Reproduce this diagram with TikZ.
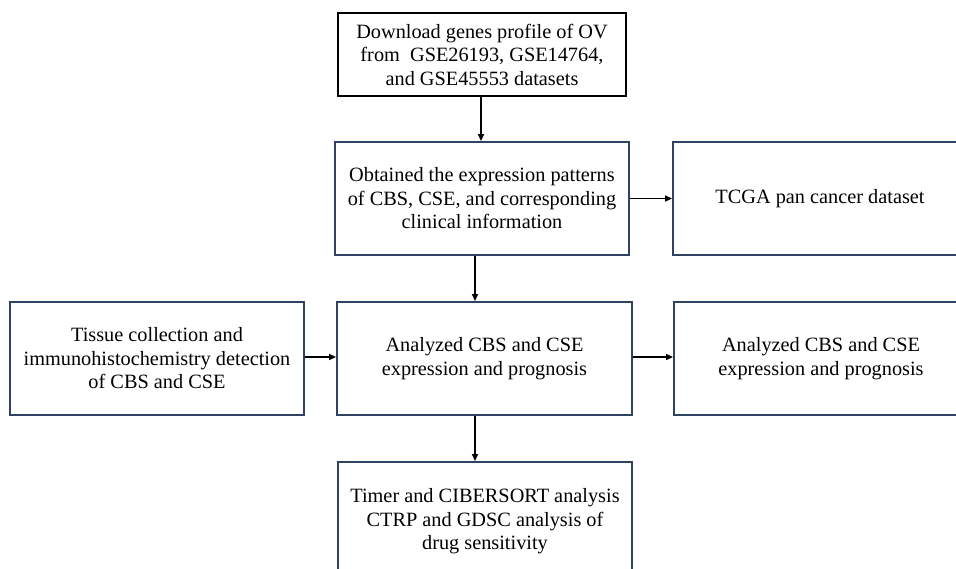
\documentclass[tikz,border=0pt]{standalone}
\usepackage{fontspec}
\setmainfont{Liberation Serif}
\usetikzlibrary{arrows.meta}
\definecolor{navy}{RGB}{47,66,98}
\begin{document}
\begin{tikzpicture}[x=1pt,y=-1pt,
  stepbox/.style={draw=navy,line width=1.8pt,fill=white,align=center,
    inner sep=0pt,minimum width=294pt,minimum height=113pt,
    font=\fontsize{20.3pt}{23.5pt}\selectfont},
  topbox/.style={stepbox,draw=black,minimum width=288pt,minimum height=83pt},
  arr/.style={line width=1.4pt,-{Triangle[length=7pt,width=6pt]}}]
\clip (0,0) rectangle (956,569);
\fill[white] (0,0) rectangle (956,569);
\node[topbox] (dl) at (482,54.5) {Download genes profile of OV\\from\ \ GSE26193, GSE14764,\\and GSE45553 datasets};
\node[stepbox] (obt) at (482,198.5) {Obtained the expression patterns\\of CBS, CSE, and corresponding\\clinical information};
\node[stepbox] (tcga) at (820,198.5) {TCGA pan cancer dataset};
\node[stepbox,minimum width=295pt] (ana) at (484.5,358.5) {Analyzed CBS and CSE\\expression and prognosis};
\node[stepbox] (tis) at (157,358.5) {Tissue collection and\\immunohistochemistry detection\\of CBS and CSE};
\node[stepbox] (ana2) at (821,358.5) {Analyzed CBS and CSE\\expression and prognosis};
\node[stepbox,minimum height=119pt] (tim) at (485,521.5) {Timer and CIBERSORT analysis\\CTRP and GDSC analysis of\\drug sensitivity};
\draw[arr] ([xshift=-1pt]dl.south) -- ([xshift=-1pt]obt.north);
\draw[arr] (obt.east) -- (tcga.west);
\draw[arr] ([xshift=-7pt]obt.south) -- ([xshift=-9.5pt]ana.north);
\draw[arr] ([yshift=1.5pt]tis.east) -- ([yshift=1.5pt]ana.west);
\draw[arr] ([yshift=1.5pt]ana.east) -- ([yshift=1.5pt]ana2.west);
\draw[arr] ([xshift=-9.5pt]ana.south) -- ([xshift=-10pt]tim.north);
\end{tikzpicture}
\end{document}
